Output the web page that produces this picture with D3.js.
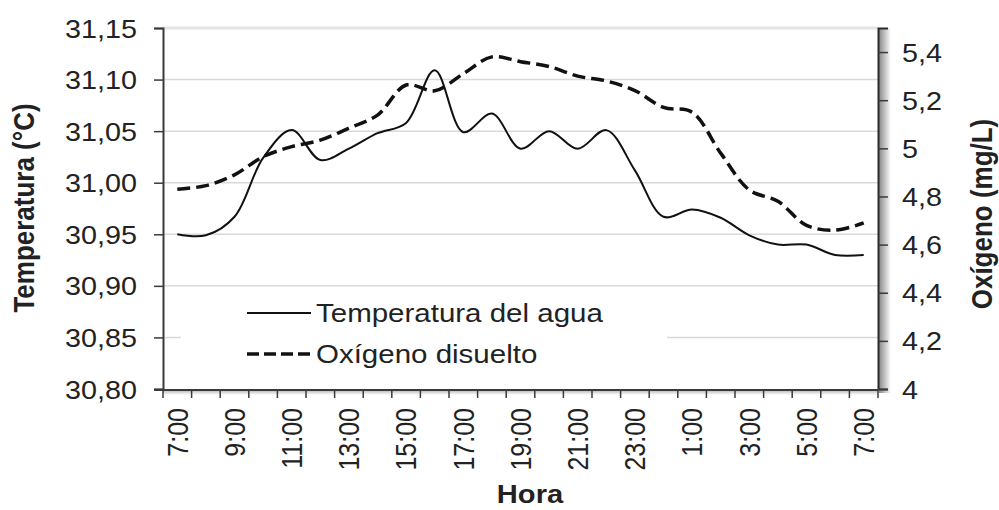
<!DOCTYPE html>
<html>
<head>
<meta charset="utf-8">
<script src="https://cdn.jsdelivr.net/npm/d3@7"></script>
<style>
  body { margin: 0; background: #fff; }
  svg { display: block; font-family: "Liberation Sans", Arial, sans-serif; }
</style>
</head>
<body>
<svg id="chart" width="999" height="510"></svg>
<script>
// data
var hours = ["7:00","8:00","9:00","10:00","11:00","12:00","13:00","14:00","15:00","16:00","17:00","18:00",
  "19:00","20:00","21:00","22:00","23:00","0:00","1:00","2:00","3:00","4:00","5:00","6:00","7:00"];
var temperatura = [30.950, 30.949, 30.967, 31.024, 31.051, 31.022, 31.033, 31.048, 31.058, 31.109, 31.049, 31.067,
  31.033, 31.050, 31.033, 31.051, 31.012, 30.967, 30.974, 30.966, 30.949, 30.940, 30.940, 30.930, 30.930];
var oxigeno = [4.83, 4.845, 4.89, 4.965, 5.007, 5.034, 5.084, 5.138, 5.263, 5.239, 5.31, 5.38,
  5.36, 5.34, 5.30, 5.28, 5.24, 5.17, 5.15, 4.98, 4.827, 4.78, 4.68, 4.66, 4.69];
var tempTicks = [30.80, 30.85, 30.90, 30.95, 31.00, 31.05, 31.10, 31.15];
var oxiTicks = [4, 4.2, 4.4, 4.6, 4.8, 5, 5.2, 5.4];
var series = ["Temperatura del agua", "Oxígeno disuelto"];

var pL = 163, pR = 878, pT = 28, pB = 389;
var sx = 1.15; // the picture's text is a bit wider than plain Arial

var svg = d3.select("#chart");
var loc = d3.formatLocale({decimal: ",", thousands: ".", grouping: [3], currency: ["", ""]});
var fmtT = loc.format(".2f"), fmtO = loc.format(".1~f");

var x = d3.scaleBand().domain(d3.range(hours.length)).range([pL, pR]).padding(0);
var yT = d3.scaleLinear().domain([30.80, 31.15]).range([pB, pT]);
var yO = d3.scaleLinear().domain([4, 5.5]).range([pB, pT]);
var cx = i => x(i) + x.bandwidth() / 2;

var defs = svg.append("defs");
var g1 = defs.append("linearGradient").attr("id", "shR");
g1.append("stop").attr("offset", 0).attr("stop-color", "#8a8a8a");
g1.append("stop").attr("offset", 1).attr("stop-color", "#fff");
var g2 = defs.append("linearGradient").attr("id", "shB").attr("x2", 0).attr("y2", 1);
g2.append("stop").attr("offset", 0).attr("stop-color", "#b5b5b5");
g2.append("stop").attr("offset", 1).attr("stop-color", "#fff");

// shadows of the plot frame
svg.append("rect").attr("x", pR + 1).attr("y", pT).attr("width", 12).attr("height", pB - pT + 4).attr("fill", "url(#shR)");
svg.append("rect").attr("x", pL).attr("y", pB + 1).attr("width", pR - pL).attr("height", 5).attr("fill", "url(#shB)");

// grid
svg.append("g").selectAll("line").data(tempTicks.slice(1)).join("line")
  .attr("x1", pL).attr("x2", pR)
  .attr("y1", d => yT(d)).attr("y2", d => yT(d))
  .attr("stroke", d => d == 31.15 ? "#e4e4e4" : "#d9d9d9")
  .attr("stroke-width", d => d == 31.15 ? 3 : 1.5);

// legend box (covers the grid)
svg.append("rect").attr("x", 181).attr("y", 292).attr("width", 486).attr("height", 96).attr("fill", "#fff");

// left axis
var axL = svg.append("g").attr("transform", `translate(${pL},0)`)
  .call(d3.axisLeft(yT).tickValues(tempTicks).tickSize(9).tickFormat(fmtT));
axL.select(".domain").attr("stroke", "#3a3a3a").attr("stroke-width", 2);
axL.selectAll(".tick line").attr("stroke", "#3a3a3a").attr("stroke-width", 1.5);
axL.selectAll(".tick text").attr("x", 0).attr("dy", "0.36em").attr("fill", "#222")
  .attr("font-size", 25).attr("font-family", "Liberation Sans, Arial")
  .attr("transform", `translate(-26,0) scale(${sx},1)`);

// right axis
var axR = svg.append("g").attr("transform", `translate(${pR},0)`)
  .call(d3.axisRight(yO).tickValues(oxiTicks).tickSize(10).tickFormat(fmtO));
axR.select(".domain").attr("stroke", "#2a2a2a").attr("stroke-width", 2);
axR.selectAll(".tick line").attr("stroke", "#3a3a3a").attr("stroke-width", 1.5);
axR.selectAll(".tick text").attr("x", 0).attr("dy", "0.36em").attr("fill", "#222")
  .attr("font-size", 25).attr("font-family", "Liberation Sans, Arial")
  .attr("transform", `translate(24,0) scale(${sx},1)`);

// bottom axis: ticks between hours, labels every second hour
var bounds = d3.range(hours.length).map(i => x(i)).concat([pR]);
var axB = svg.append("g");
axB.append("line").attr("x1", pL - 9).attr("x2", pR).attr("y1", pB + 1).attr("y2", pB + 1)
  .attr("stroke", "#3a3a3a").attr("stroke-width", 2);
axB.selectAll(".tk").data(bounds).join("line").attr("class", "tk")
  .attr("x1", d => d).attr("x2", d => d).attr("y1", pB + 1).attr("y2", pB + 9)
  .attr("stroke", "#3a3a3a").attr("stroke-width", 1.5);
axB.selectAll("text").data(d3.range(0, hours.length, 2)).join("text")
  .attr("transform", i => `translate(${cx(i)},${pB + 19}) scale(${sx},1) rotate(-90)`)
  .attr("text-anchor", "end").attr("dy", "0.36em")
  .attr("font-size", 25).attr("fill", "#222")
  .text(i => hours[i]);

// lines
var lineT = d3.line().x((d, i) => cx(i)).y(d => yT(d)).curve(d3.curveCatmullRom.alpha(0.5));
var lineO = d3.line().x((d, i) => cx(i)).y(d => yO(d)).curve(d3.curveCatmullRom.alpha(0.5));
svg.append("path").attr("d", lineO(oxigeno)).attr("fill", "none").attr("stroke", "#111")
  .attr("stroke-width", 3.5).attr("stroke-dasharray", "13,6");
svg.append("path").attr("d", lineT(temperatura)).attr("fill", "none").attr("stroke", "#111")
  .attr("stroke-width", 2);

// legend
var leg = svg.append("g");
leg.append("line").attr("x1", 247).attr("x2", 311).attr("y1", 313).attr("y2", 313)
  .attr("stroke", "#111").attr("stroke-width", 2);
leg.append("line").attr("x1", 247).attr("x2", 311).attr("y1", 354).attr("y2", 354)
  .attr("stroke", "#111").attr("stroke-width", 3.5).attr("stroke-dasharray", "12,5");
leg.selectAll("text").data(series).join("text")
  .attr("transform", (d, i) => `translate(316,${322 + i * 41}) scale(1.18,1)`)
  .attr("font-size", 25).attr("fill", "#222").text(d => d);

// axis titles
svg.append("text").attr("transform", `translate(23,208) scale(${sx},1) rotate(-90)`)
  .attr("text-anchor", "middle").attr("dy", "0.36em").attr("font-weight", "bold")
  .attr("font-size", 26).attr("fill", "#222").text("Temperatura (°C)");
svg.append("text").attr("transform", `translate(981,214) scale(${sx},1) rotate(-90)`)
  .attr("text-anchor", "middle").attr("dy", "0.36em").attr("font-weight", "bold")
  .attr("font-size", 26).attr("fill", "#222").text("Oxígeno (mg/L)");
svg.append("text").attr("transform", `translate(530,503) scale(1.12,1)`)
  .attr("text-anchor", "middle").attr("font-weight", "bold")
  .attr("font-size", 26).attr("fill", "#222").text("Hora");
</script>
</body>
</html>
